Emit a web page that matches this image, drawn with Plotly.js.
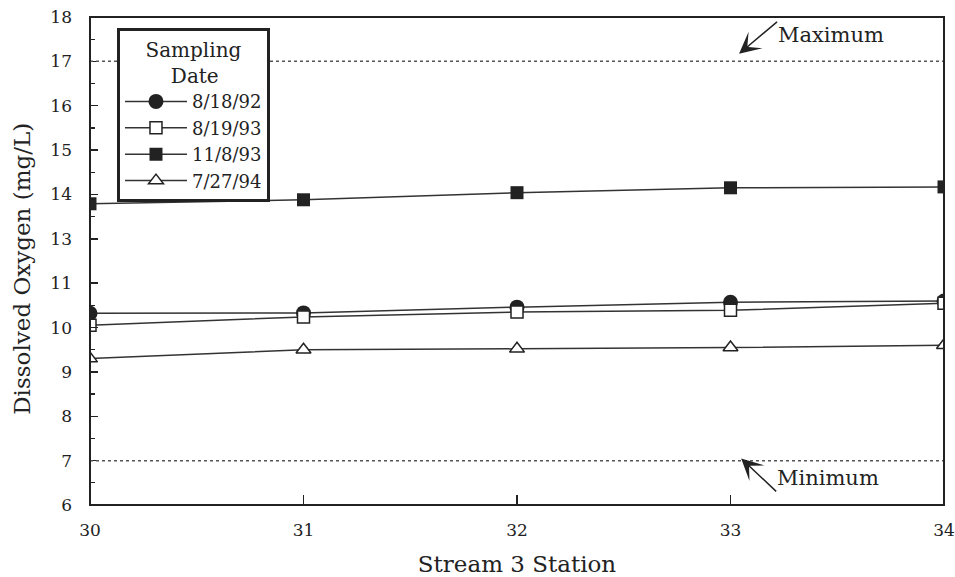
<!DOCTYPE html>
<html>
<head>
<meta charset="utf-8">
<script src="https://cdn.plot.ly/plotly-3.0.1.min.js"></script>
<style>html,body{margin:0;padding:0;background:#fff;}</style>
</head>
<body>
<div id="chart" style="width:955px;height:577px;"></div>
<script>
// Stream 3 stations
const stations = [30, 31, 32, 33, 34];
// Dissolved oxygen (mg/L) by sampling date
const do_081892 = [10.32, 10.33, 10.46, 10.57, 10.60];
const do_081993 = [10.05, 10.24, 10.35, 10.39, 10.55];
const do_110893 = [13.79, 13.88, 14.04, 14.15, 14.17];
const do_072794 = [9.30, 9.50, 9.52, 9.55, 9.60];
const seriesNames = ['8/18/92', '8/19/93', '11/8/93', '7/27/94'];
const maxLimit = 17;
const minLimit = 7;

const FONT = 'DejaVu Serif';
const INK = '#222';
const lineStyle = {color: '#333', width: 1.5};

const traces = [
  {x: stations, y: do_081892, name: seriesNames[0], mode: 'lines+markers', yaxis: 'y',
   line: lineStyle, marker: {symbol: 'circle', size: 15, color: INK}},
  {x: stations, y: do_081993, name: seriesNames[1], mode: 'lines+markers', yaxis: 'y',
   line: lineStyle, marker: {symbol: 'square', size: 12, color: '#fff', line: {color: INK, width: 1.5}}},
  {x: stations, y: do_110893, name: seriesNames[2], mode: 'lines+markers', yaxis: 'y2',
   line: lineStyle, marker: {symbol: 'square', size: 13, color: INK}},
  {x: stations, y: do_072794, name: seriesNames[3], mode: 'lines+markers', yaxis: 'y',
   line: lineStyle, marker: {symbol: 'triangle-up', size: 13, color: '#fff', line: {color: INK, width: 1.5}}}
];

const yCommon = {
  showgrid: false, zeroline: false, showline: false,
  ticks: 'inside', ticklen: 8, tickwidth: 1.5, tickcolor: INK,
  dtick: 1, tickmode: 'linear',
  minor: {dtick: 0.5, ticks: 'inside', ticklen: 5, tickwidth: 1.2, tickcolor: INK, showgrid: false},
  tickfont: {family: FONT, size: 17, color: INK},
  ticklabelstandoff: 17, fixedrange: true
};

const layout = {
  width: 955, height: 577,
  margin: {l: 90, r: 11, t: 17, b: 72},
  paper_bgcolor: '#fff', plot_bgcolor: '#fff',
  font: {family: FONT, color: INK},
  showlegend: true,
  xaxis: {
    range: [30, 34], tickmode: 'linear', tick0: 30, dtick: 1,
    showgrid: false, zeroline: false, showline: false,
    ticks: 'inside', ticklen: 10, tickwidth: 1.5, tickcolor: INK,
    tickfont: {family: FONT, size: 17, color: INK},
    ticklabelstandoff: 13,
    title: {text: 'Stream 3 Station', font: {family: FONT, size: 23, color: INK}, standoff: 18}
  },
  yaxis: Object.assign({}, yCommon, {domain: [0, 0.5], range: [6, 11.5], tick0: 6}),
  yaxis2: Object.assign({}, yCommon, {domain: [0.5, 1], range: [12.5, 18], tick0: 13}),
  legend: {
    x: 0.0316, y: 0.977, xanchor: 'left', yanchor: 'top',
    bgcolor: '#fff', bordercolor: INK, borderwidth: 3,
    itemwidth: 62,
    font: {family: FONT, size: 18, color: INK},
    title: {text: 'Sampling<br>&nbsp;&nbsp;&nbsp;&nbsp;Date', side: 'top center', font: {family: FONT, size: 20, color: INK}}
  },
  shapes: [
    {type: 'line', xref: 'x', yref: 'y2', x0: stations[0], x1: stations[stations.length - 1], y0: maxLimit, y1: maxLimit,
     line: {color: '#555', width: 1.5, dash: 'dot'}},
    {type: 'line', xref: 'x', yref: 'y', x0: stations[0], x1: stations[stations.length - 1], y0: minLimit, y1: minLimit,
     line: {color: '#555', width: 1.5, dash: 'dot'}},
    {type: 'rect', xref: 'paper', yref: 'paper', x0: 0, x1: 1, y0: 0, y1: 1,
     line: {color: INK, width: 2}, layer: 'above'}
  ],
  annotations: [
    {text: 'Dissolved Oxygen (mg/L)', xref: 'paper', yref: 'paper', x: -0.0796, y: 0.484,
     textangle: -90, showarrow: false, xanchor: 'center', yanchor: 'middle',
     font: {family: FONT, size: 23, color: INK}},
    {text: 'Maximum', xref: 'x', yref: 'y2', x: 33.04, y: 17.17, ax: 38, ay: -32,
     xanchor: 'left', yanchor: 'top', borderpad: 0, showarrow: true, arrowhead: 3, arrowsize: 2.4, arrowwidth: 1.5,
     arrowcolor: INK, standoff: 0, font: {family: FONT, size: 21, color: INK}},
    {text: 'Minimum', xref: 'x', yref: 'y', x: 33.05, y: 7.05, ax: 35, ay: 33,
     xanchor: 'left', yanchor: 'bottom', borderpad: 0, showarrow: true, arrowhead: 3, arrowsize: 2.4, arrowwidth: 1.5,
     arrowcolor: INK, standoff: 0, font: {family: FONT, size: 21, color: INK}}
  ]
};

Plotly.newPlot('chart', traces, layout, {displayModeBar: false, staticPlot: true});
</script>
</body>
</html>
